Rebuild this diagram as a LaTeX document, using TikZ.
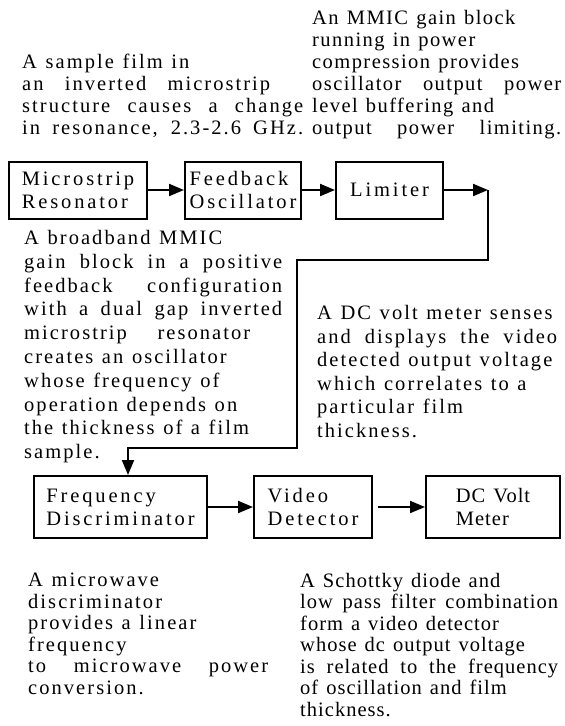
\documentclass[tikz,border=0pt]{standalone}
\usepackage{fontspec}
\setmainfont{Liberation Serif}
\newfontfamily\boxfont[LetterSpace=14,Ligatures=NoCommon]{Liberation Serif}
\newfontfamily\notefont[LetterSpace=10,WordSpace=1.2,Ligatures=NoCommon]{Liberation Serif}
\newfontfamily\midfont[LetterSpace=7,WordSpace=1.25,Ligatures=NoCommon]{Liberation Serif}
\newfontfamily\tightfont[LetterSpace=5,WordSpace=1.3,Ligatures=NoCommon]{Liberation Serif}
\newcommand{\fitline}[2]{\makebox[#1pt][s]{#2}}
\usetikzlibrary{arrows.meta, positioning}

\begin{document}
\begin{tikzpicture}[
    x=1pt, y=-1pt,
    blk/.style={draw, line width=2pt, align=left, inner sep=0pt, font=\fontsize{20.5}{23}\selectfont\boxfont},
    note/.style={anchor=north west, align=left, inner sep=0pt, font=\fontsize{20.5}{22}\selectfont\notefont},
    arr/.style={-{Triangle[length=15pt, width=12pt]}, line width=2pt}
]
    \useasboundingbox (0,0) rectangle (565,726);

    % Top row
    \node[blk, minimum width=138pt, minimum height=57pt] (res) at (78,190) {Microstrip\\Resonator};
    \node[blk, minimum width=116pt, minimum height=57pt] (fb) at (243,190) {Feedback\\Oscillator};
    \node[blk, minimum width=107pt, minimum height=57pt] (lim) at (389.5,190) {Limiter};

    % Bottom row
    \node[blk, minimum width=173pt, minimum height=62pt] (freq) at (120.5,507) {Frequency\\Discriminator};
    \node[blk, minimum width=118pt, minimum height=62pt] (vid) at (313,507) {Video\\Detector};
    \node[blk, minimum width=134pt, minimum height=62pt, font=\fontsize{20.5}{23}\selectfont\tightfont] (dcvm) at (493,507) {DC Volt\\Meter};

    % Notes
    \node[note] (filmtxt) at (22,54) {A sample film in\\\fitline{248}{an inverted microstrip}\\\fitline{281}{structure causes a change}\\\fitline{281}{in resonance, 2.3-2.6 GHz.}};
    \node[note, font=\fontsize{20.5}{22}\selectfont\midfont] (limtxt) at (312,10) {An MMIC gain block\\running in power\\compression provides\\\fitline{249}{oscillator output power}\\level buffering and\\\fitline{249}{output power limiting.}};
    \node[note, font=\fontsize{20.5}{23.8}\selectfont\notefont] (osctxt) at (24,230) {A broadband MMIC\\\fitline{258}{gain block in a positive}\\\fitline{258}{feedback configuration}\\\fitline{258}{with a dual gap inverted}\\\fitline{226}{microstrip resonator}\\creates an oscillator\\whose frequency of\\operation depends on\\the thickness of a film\\sample.};
    \node[note, font=\fontsize{20.5}{23.6}\selectfont\notefont] (metertxt) at (317,305) {A DC volt meter senses\\\fitline{240}{and displays the video}\\detected output voltage\\which correlates to a\\particular film\\thickness.};
    \node[note, font=\fontsize{20.5}{21.5}\selectfont\notefont] (disctxt) at (28,573) {A microwave\\discriminator\\provides a linear\\frequency\\\fitline{240}{to microwave power}\\conversion.};
    \node[note, font=\fontsize{20.5}{21.5}\selectfont\tightfont] (dettxt) at (300,573) {A Schottky diode and\\\fitline{258}{low pass filter combination}\\form a video detector\\whose dc output voltage\\\fitline{258}{is related to the frequency}\\of oscillation and film\\thickness.};

    % Signal path
    \coordinate (turn) at (488,190);
    \coordinate (elbowA) at (297,260);
    \coordinate (elbowB) at (128,448);
    \draw[arr] (res) -- (fb);
    \draw[arr] (fb) -- (lim);
    \draw[arr] (lim) -- (turn);
    \draw[arr] (turn) |- (elbowA) |- (elbowB) -- (elbowB |- freq.north);
    \draw[arr] (freq) -- (vid);
    \draw[arr, shorten <=5pt] (vid) -- (dcvm);
\end{tikzpicture}
\end{document}
